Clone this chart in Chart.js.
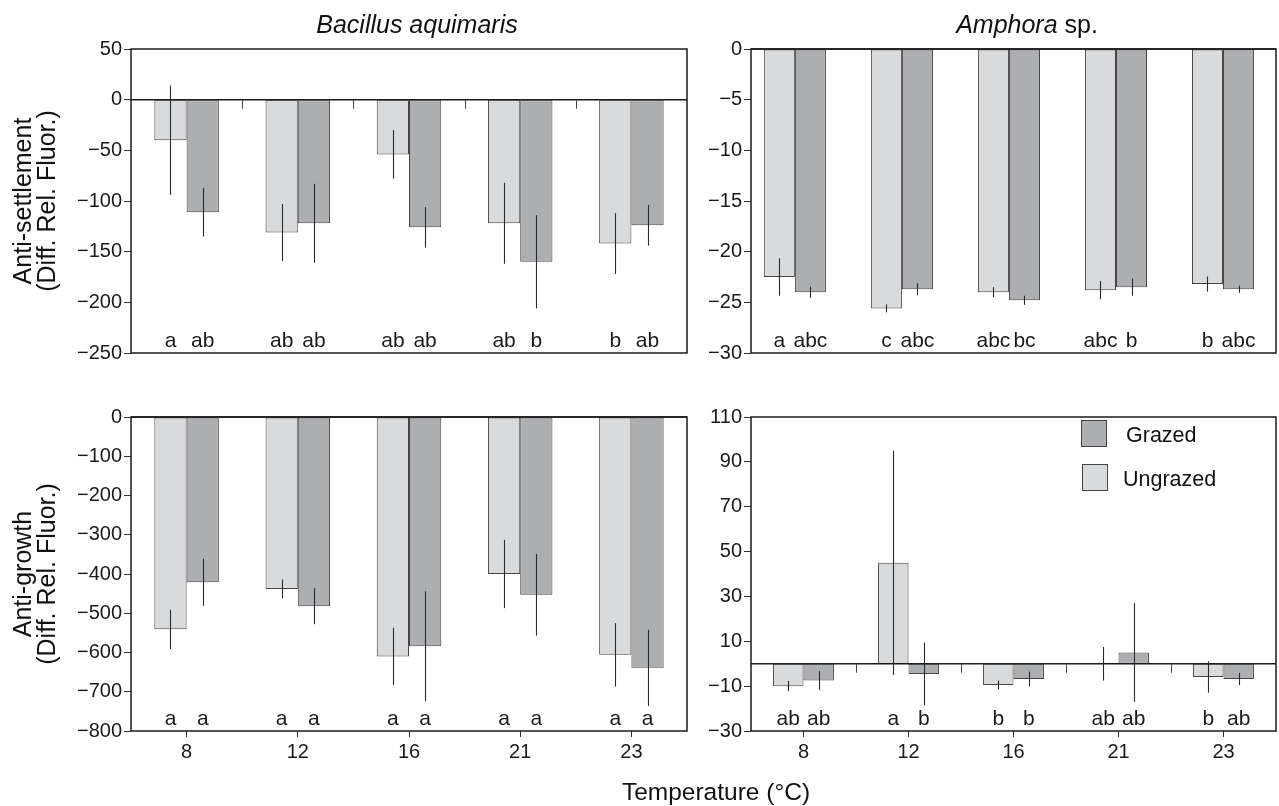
<!DOCTYPE html>
<html>
<head>
<meta charset="utf-8">
<script src="https://cdn.jsdelivr.net/npm/chart.js@4.4.1/dist/chart.umd.min.js"></script>
<style>
  html, body { margin: 0; padding: 0; background: #fff; }
  #wrap { position: relative; width: 1279px; height: 806px; font-family: "Liberation Sans", Arial, sans-serif; color: #111; }
  #wrap canvas { position: absolute; left: 0; top: 0; }
  .txt { position: absolute; white-space: nowrap; line-height: 1; }
  .title { transform: translate(-50%, -50%); font-size: 25px; }
  .ytitle { transform: translate(-50%, -50%) rotate(-90deg); text-align: center; font-size: 25px; line-height: 24px; }
  .key { position: absolute; width: 26px; height: 27px; border: 1px solid #444; box-sizing: border-box; }
  .keytxt { transform: translateY(-50%); font-size: 21.5px; }
</style>
</head>
<body>
<div id="wrap">
  <canvas id="tl" width="1279" height="806"></canvas>
  <canvas id="tr" width="1279" height="806"></canvas>
  <canvas id="bl" width="1279" height="806"></canvas>
  <canvas id="br" width="1279" height="806"></canvas>

  <div class="txt title" style="left:417px; top:24px;"><i>Bacillus aquimaris</i></div>
  <div class="txt title" style="left:1027px; top:24px;"><i>Amphora</i> sp.</div>
  <div class="txt ytitle" style="left:34px; top:201px;">Anti-settlement<br>(Diff. Rel. Fluor.)</div>
  <div class="txt ytitle" style="left:34px; top:574px;">Anti-growth<br>(Diff. Rel. Fluor.)</div>
  <div class="txt title" style="left:716px; top:792px; font-size:24.5px;">Temperature (°C)</div>

  <div class="key" style="left:1081px; top:420px; background:#adaeb1;"></div>
  <div class="txt keytxt" style="left:1126px; top:436px;">Grazed</div>
  <div class="key" style="left:1082px; top:464px; background:#d9dadc;"></div>
  <div class="txt keytxt" style="left:1123px; top:480px;">Ungrazed</div>
</div>

<script>
// temperature groups
const temps = ['8', '12', '16', '21', '23'];

// Bacillus aquimaris, anti-settlement
const bacSetUngrazed = [-40, -131, -54, -122, -142];
const bacSetUngrazedErr = [54, 28, 24, 40, 30];
const bacSetGrazed = [-111, -122, -126, -160, -124];
const bacSetGrazedErr = [24, 39, 20, 46, 20];
const bacSetUngrazedLetters = ['a', 'ab', 'ab', 'ab', 'b'];
const bacSetGrazedLetters = ['ab', 'ab', 'ab', 'b', 'ab'];

// Amphora sp., anti-settlement
const ampSetUngrazed = [-22.5, -25.6, -24.0, -23.8, -23.2];
const ampSetUngrazedErr = [1.85, 0.4, 0.5, 0.9, 0.75];
const ampSetGrazed = [-24.0, -23.7, -24.8, -23.5, -23.7];
const ampSetGrazedErr = [0.55, 0.6, 0.45, 0.85, 0.35];
const ampSetUngrazedLetters = ['a', 'c', 'abc', 'abc', 'b'];
const ampSetGrazedLetters = ['abc', 'abc', 'bc', 'b', 'abc'];

// Bacillus aquimaris, anti-growth
const bacGrowUngrazed = [-541, -438, -610, -400, -606];
const bacGrowUngrazedErr = [50, 24, 73, 87, 81];
const bacGrowGrazed = [-421, -482, -584, -453, -639];
const bacGrowGrazedErr = [60, 46, 140, 104, 97];
const bacGrowUngrazedLetters = ['a', 'a', 'a', 'a', 'a'];
const bacGrowGrazedLetters = ['a', 'a', 'a', 'a', 'a'];

// Amphora sp., anti-growth
const ampGrowUngrazed = [-10, 45, -9.5, 0, -5.9];
const ampGrowUngrazedErr = [2.3, 50, 2, 7.5, 7];
const ampGrowGrazed = [-7.5, -4.6, -6.8, 5, -6.8];
const ampGrowGrazedErr = [4.2, 14, 3.3, 22, 2.7];
const ampGrowUngrazedLetters = ['ab', 'a', 'b', 'ab', 'b'];
const ampGrowGrazedLetters = ['ab', 'b', 'b', 'ab', 'ab'];

const lightFill = '#d9dadc';
const darkFill = '#adaeb1';
const edge = '#444';
const ink = '#1a1a1a';
const FONT = '"Liberation Sans", Arial, sans-serif';
const Y_W = 60, X_H = 30;

const minus = v => String(v).replace('-', '\u2212');

// error bars, letters, zero line, frame
const decor = {
  id: 'decor',
  afterDatasetsDraw(chart) {
    const { ctx, chartArea: a, scales: { x, y } } = chart;
    ctx.save();
    const z = y.getPixelForValue(0);
    ctx.strokeStyle = ink;
    ctx.lineWidth = 1.5;
    ctx.beginPath();
    ctx.moveTo(a.left, z);
    ctx.lineTo(a.right, z);
    ctx.stroke();
    if (z > a.top + 2) {
      ctx.lineWidth = 1;
      ctx.strokeStyle = '#444';
      for (let k = 1; k < temps.length; k++) {
        const px = Math.round((x.getPixelForValue(k - 1) + x.getPixelForValue(k)) / 2) + 0.5;
        ctx.beginPath();
        ctx.moveTo(px, z);
        ctx.lineTo(px, z + 9);
        ctx.stroke();
      }
    }
    chart.data.datasets.forEach((ds, i) => {
      const meta = chart.getDatasetMeta(i);
      meta.data.forEach((bar, j) => {
        const v = ds.values[j], e = ds.err[j];
        ctx.strokeStyle = '#2a2a2a';
        ctx.lineWidth = 1.1;
        ctx.beginPath();
        ctx.moveTo(Math.round(bar.x) + 0.5, y.getPixelForValue(v + e));
        ctx.lineTo(Math.round(bar.x) + 0.5, y.getPixelForValue(v - e));
        ctx.stroke();
        ctx.fillStyle = ink;
        ctx.font = '21px ' + FONT;
        ctx.textAlign = 'center';
        ctx.textBaseline = 'alphabetic';
        ctx.fillText(ds.letters[j], bar.x, a.bottom - 6);
      });
    });
    ctx.strokeStyle = ink;
    ctx.lineWidth = 1.5;
    ctx.strokeRect(a.left, a.top, a.right - a.left, a.bottom - a.top);
    ctx.restore();
  }
};

// xr: optional [min, max] in group-index units when groups sit off-centre in the frame
function panel(id, box, yr, sets, showX, xr) {
  const ds = (label, values, err, letters, fill) => ({
    label, values, err, letters,
    data: xr ? values.map((v, i) => ({ x: i, y: v })) : values,
    backgroundColor: fill,
    borderColor: edge,
    borderWidth: 1,
    borderSkipped: false,
    categoryPercentage: 0.58,
    barPercentage: 1
  });
  const xScale = xr
    ? { type: 'linear', min: xr[0], max: xr[1], offset: false,
        afterFit: s => { s.height = X_H; },
        afterBuildTicks: s => { s.ticks = temps.map((t, i) => ({ value: i })); },
        grid: { display: false }, border: { display: false }, ticks: { display: false } }
    : {
        offset: true,
        afterFit: s => { s.height = X_H; },
        grid: { offset: false, drawOnChartArea: false, drawTicks: showX, tickLength: 6, color: '#333' },
        border: { display: false },
        ticks: { display: showX, color: ink, font: { family: FONT, size: 20 }, padding: 3 }
      };
  return new Chart(document.getElementById(id), {
    type: 'bar',
    data: {
      labels: temps,
      datasets: [
        ds('Ungrazed', sets[0], sets[1], sets[2], lightFill),
        ds('Grazed', sets[3], sets[4], sets[5], darkFill)
      ]
    },
    options: {
      responsive: false,
      animation: false,
      devicePixelRatio: 1,
      layout: { padding: { left: box[0] - Y_W, top: box[1], right: 1279 - box[2], bottom: 806 - box[3] - X_H } },
      plugins: { legend: { display: false }, tooltip: { enabled: false } },
      scales: {
        x: xScale,
        y: {
          min: yr[0], max: yr[1],
          afterFit: s => { s.width = Y_W; },
          grid: { drawOnChartArea: false, drawTicks: true, tickLength: 7, color: '#333' },
          border: { display: false },
          ticks: { stepSize: yr[2], color: ink, font: { family: FONT, size: 20 }, padding: 2, callback: v => minus(v) }
        }
      }
    },
    plugins: [decor]
  });
}

panel('tl', [131, 49, 687, 353], [-250, 50, 50],
  [bacSetUngrazed, bacSetUngrazedErr, bacSetUngrazedLetters, bacSetGrazed, bacSetGrazedErr, bacSetGrazedLetters], false);
panel('tr', [751, 49, 1276, 353], [-30, 0, 5],
  [ampSetUngrazed, ampSetUngrazedErr, ampSetUngrazedLetters, ampSetGrazed, ampSetGrazedErr, ampSetGrazedLetters], false,
  [-0.41, 4.495]);
panel('bl', [131, 417, 687, 731], [-800, 0, 100],
  [bacGrowUngrazed, bacGrowUngrazedErr, bacGrowUngrazedLetters, bacGrowGrazed, bacGrowGrazedErr, bacGrowGrazedLetters], true);
panel('br', [751, 417, 1276, 731], [-30, 110, 20],
  [ampGrowUngrazed, ampGrowUngrazedErr, ampGrowUngrazedLetters, ampGrowGrazed, ampGrowGrazedErr, ampGrowGrazedLetters], true);
</script>
</body>
</html>
